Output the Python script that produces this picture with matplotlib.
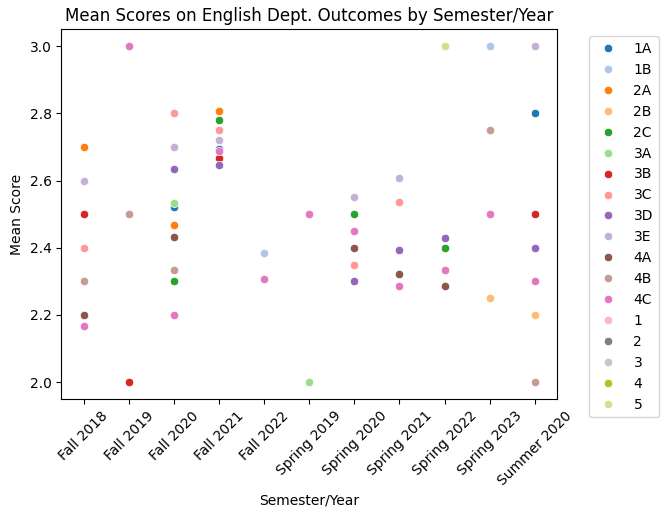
import matplotlib
matplotlib.use("Agg")
import matplotlib.pyplot as plt
from matplotlib.lines import Line2D
import numpy as np

semesters = ["Fall 2018", "Fall 2019", "Fall 2020", "Fall 2021", "Fall 2022",
             "Spring 2019", "Spring 2020", "Spring 2021", "Spring 2022",
             "Spring 2023", "Summer 2020"]
groups = ["1A", "1B", "2A", "2B", "2C", "3A", "3B", "3C", "3D", "3E",
          "4A", "4B", "4C", "1", "2", "3", "4", "5"]

# one row per point: semester, outcome group, mean score
point_sem = (["Fall 2018"] * 7 + ["Fall 2019"] * 3 + ["Fall 2020"] * 10 +
             ["Fall 2021"] * 8 + ["Fall 2022"] * 2 + ["Spring 2019"] * 2 +
             ["Spring 2020"] * 6 + ["Spring 2021"] * 5 + ["Spring 2022"] * 5 +
             ["Spring 2023"] * 4 + ["Summer 2020"] * 7)
point_grp = ["2A", "3E", "3B", "3C", "4B", "4A", "4C",
             "4C", "4B", "3B",
             "3C", "3E", "3D", "3A", "1A", "2A", "4A", "4B", "2C", "4C",
             "2A", "2C", "3C", "3E", "1A", "4C", "3B", "3D",
             "1B", "4C",
             "4C", "3A",
             "3E", "2C", "4C", "4A", "3C", "3D",
             "3E", "3C", "3D", "4A", "4C",
             "5", "3D", "2C", "4C", "4A",
             "1B", "4B", "4C", "2B",
             "3E", "1A", "3B", "3D", "4C", "2B", "4B"]
point_score = [2.7, 2.6, 2.5, 2.4, 2.3, 2.2, 2.167,
               3.0, 2.5, 2.0,
               2.8, 2.7, 2.633, 2.533, 2.52, 2.467, 2.433, 2.333, 2.3, 2.2,
               2.806, 2.781, 2.75, 2.722, 2.694, 2.688, 2.667, 2.647,
               2.385, 2.308,
               2.5, 2.0,
               2.55, 2.5, 2.45, 2.4, 2.35, 2.3,
               2.607, 2.536, 2.393, 2.321, 2.286,
               3.0, 2.429, 2.4, 2.333, 2.286,
               3.0, 2.75, 2.5, 2.25,
               3.0, 2.8, 2.5, 2.4, 2.3, 2.2, 2.0]

colors = plt.get_cmap("tab20").colors

fig = plt.figure(figsize=(6.68, 5.18), dpi=100)
ax = fig.add_axes([61.3 / 668, 119 / 518, 496 / 668, 369.7 / 518])

xs = np.array([semesters.index(s) for s in point_sem])
ys = np.array(point_score)
gs = np.array(point_grp)
for i, g in enumerate(groups):
    m = gs == g
    if m.any():
        ax.scatter(xs[m], ys[m], s=36, color=colors[i],
                   edgecolors="white", linewidths=0.48, zorder=2)

ax.set_xticks(range(len(semesters)))
ax.set_xticklabels(semesters, rotation=45)
ax.set_yticks([2.0, 2.2, 2.4, 2.6, 2.8, 3.0])
ax.set_xlabel("Semester/Year")
ax.set_ylabel("Mean Score")
ax.set_title("Mean Scores on English Dept. Outcomes by Semester/Year")

handles = [Line2D([], [], marker="o", ls="", color=colors[i],
                  markeredgecolor="white", markeredgewidth=0.48,
                  markersize=6, label=g) for i, g in enumerate(groups)]
ax.legend(handles=handles, bbox_to_anchor=(1.05, 1), loc="upper left")

fig.savefig("out.png")
